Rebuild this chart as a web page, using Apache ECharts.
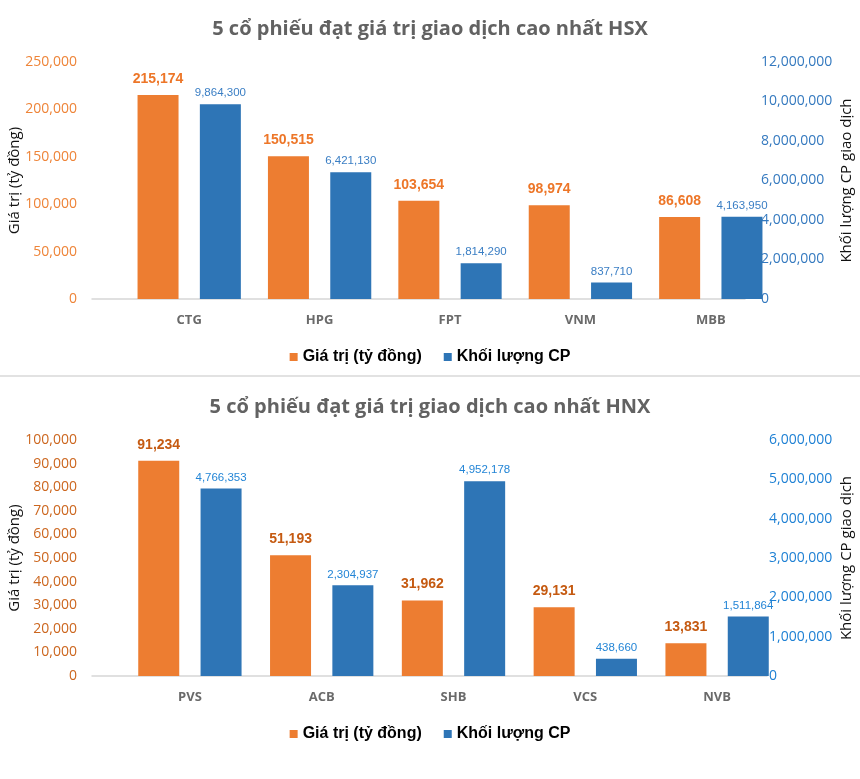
<!DOCTYPE html>
<html>
<head>
<meta charset="utf-8">
<script src="https://cdn.jsdelivr.net/npm/echarts@6/dist/echarts.min.js"></script>
<style>
  html, body { margin: 0; padding: 0; background: #ffffff; }
  #top { width: 860px; height: 375px; }
  #sep { width: 860px; height: 2px; background: #e2e2e2; }
  #bottom { width: 860px; height: 402px; }
</style>
</head>
<body>
<div id="top"></div>
<div id="sep"></div>
<div id="bottom"></div>
<script>
// ---- Data ----
const seriesNames = ['Giá trị (tỷ đồng)', 'Khối lượng CP'];

const hsxTitle = '5 cổ phiếu đạt giá trị giao dịch cao nhất HSX';
const hsxCategories = ['CTG', 'HPG', 'FPT', 'VNM', 'MBB'];
const hsxValue = [215174, 150515, 103654, 98974, 86608];
const hsxVolume = [9864300, 6421130, 1814290, 837710, 4163950];
const hsxLeftTicks = [0, 250000, 50000];      // min, max, interval
const hsxRightTicks = [0, 12000000, 2000000];

const hnxTitle = '5 cổ phiếu đạt giá trị giao dịch cao nhất HNX';
const hnxCategories = ['PVS', 'ACB', 'SHB', 'VCS', 'NVB'];
const hnxValue = [91234, 51193, 31962, 29131, 13831];
const hnxVolume = [4766353, 2304937, 4952178, 438660, 1511864];
const hnxLeftTicks = [0, 100000, 10000];
const hnxRightTicks = [0, 6000000, 1000000];

const leftAxisName = 'Giá trị (tỷ đồng)';
const rightAxisName = 'Khối lượng CP giao dịch';

// ---- Helpers ----
const fmt = v => Number(v).toLocaleString('en-US');
const ORANGE = '#ED7D31';
const BLUE = '#2E75B6';
const LABELFONT = '"Liberation Sans", Arial, sans-serif';
const SANS = '"Open Sans", "Noto Sans", sans-serif';

function build(cfg) {
  return {
    animation: false,
    backgroundColor: '#ffffff',
    title: {
      text: cfg.title,
      left: 'center',
      top: cfg.titleTop,
      textStyle: { fontFamily: SANS, fontWeight: 'bold', fontSize: 20, color: '#626262', lineHeight: 26 }
    },
    legend: {
      data: seriesNames,
      top: 344,
      left: 'center',
      icon: 'rect',
      itemWidth: 8,
      itemHeight: 8,
      itemGap: 22,
      textStyle: { fontFamily: '"Liberation Sans", Arial, sans-serif', fontWeight: 'bold', fontSize: 16, color: '#000000' }
    },
    grid: [
      { left: 124, right: cfg.gridRight, top: cfg.gridTop, bottom: cfg.gridBottom, outerBoundsMode: 'none', containLabel: false },
      { left: 92, right: cfg.lineRight, top: cfg.gridTop, bottom: cfg.gridBottom, outerBoundsMode: 'none', containLabel: false }
    ],
    xAxis: [
      {
        type: 'category', gridIndex: 0, data: cfg.categories,
        axisLine: { show: false }, axisTick: { show: false },
        axisLabel: { margin: 15, fontFamily: SANS, fontWeight: 'bold', fontSize: 13, color: '#6a6a6a' }
      },
      {
        type: 'category', gridIndex: 1, data: cfg.categories,
        axisLine: { show: true, lineStyle: { color: '#d6d6d6', width: 1.5 } },
        axisTick: { show: false }, axisLabel: { show: false }
      }
    ],
    yAxis: [
      {
        type: 'value', gridIndex: 0, position: 'left',
        min: cfg.left[0], max: cfg.left[1], interval: cfg.left[2],
        offset: 39,
        splitLine: { show: false }, axisLine: { show: false }, axisTick: { show: false },
        axisLabel: { margin: 8, fontFamily: SANS, fontSize: 14, color: cfg.leftLabelColor, formatter: fmt },
        name: leftAxisName, nameLocation: 'middle', nameRotate: 90, nameGap: cfg.leftNameGap,
        nameMoveOverlap: false,
        nameTextStyle: { fontFamily: SANS, fontSize: 15, color: '#111111' }
      },
      {
        type: 'value', gridIndex: 0, position: 'right',
        min: cfg.right[0], max: cfg.right[1], interval: cfg.right[2],
        offset: cfg.rightOffset,
        splitLine: { show: false }, axisLine: { show: false }, axisTick: { show: false },
        axisLabel: { margin: 2, fontFamily: SANS, fontSize: 14, color: cfg.rightLabelColor, formatter: fmt },
        name: rightAxisName, nameLocation: 'middle', nameRotate: 90, nameGap: cfg.rightNameGap,
        nameMoveOverlap: false,
        nameTextStyle: { fontFamily: SANS, fontSize: 15, color: '#111111' }
      },
      { type: 'value', gridIndex: 1, show: false }
    ],
    series: [
      {
        name: seriesNames[0], type: 'bar', xAxisIndex: 0, yAxisIndex: 0,
        data: cfg.values, barWidth: 41, barGap: '52%',
        itemStyle: { color: ORANGE },
        label: {
          show: true, position: 'top', distance: 9, formatter: p => fmt(p.value),
          fontFamily: LABELFONT, fontWeight: 'bold', fontSize: 14, color: cfg.valueLabelColor
        }
      },
      {
        name: seriesNames[1], type: 'bar', xAxisIndex: 0, yAxisIndex: 1,
        data: cfg.volumes, barWidth: 41, barGap: '52%',
        itemStyle: { color: BLUE },
        label: {
          show: true, position: 'top', distance: 5, formatter: p => fmt(p.value),
          fontFamily: LABELFONT, fontSize: 11.5, color: cfg.volumeLabelColor
        }
      }
    ]
  };
}

const topChart = echarts.init(document.getElementById('top'), null, { renderer: 'canvas' });
topChart.setOption(build({
  title: hsxTitle, titleTop: 11,
  categories: hsxCategories, values: hsxValue, volumes: hsxVolume,
  left: hsxLeftTicks, right: hsxRightTicks,
  gridTop: 62, gridBottom: 76, gridRight: 84, lineRight: 115,
  rightOffset: -17, leftNameGap: 63, rightNameGap: 80,
  leftLabelColor: '#EE8438', rightLabelColor: '#3479BF',
  valueLabelColor: '#ED7628', volumeLabelColor: '#3A7EC4'
}));

const bottomChart = echarts.init(document.getElementById('bottom'), null, { renderer: 'canvas' });
bottomChart.setOption(build({
  title: hnxTitle, titleTop: 12,
  categories: hnxCategories, values: hnxValue, volumes: hnxVolume,
  left: hnxLeftTicks, right: hnxRightTicks,
  gridTop: 63, gridBottom: 103, gridRight: 77, lineRight: 93,
  rightOffset: -16, leftNameGap: 63, rightNameGap: 72,
  leftLabelColor: '#CC661E', rightLabelColor: '#1E80D4',
  valueLabelColor: '#C55A11', volumeLabelColor: '#2385D6'
}));
</script>
</body>
</html>
